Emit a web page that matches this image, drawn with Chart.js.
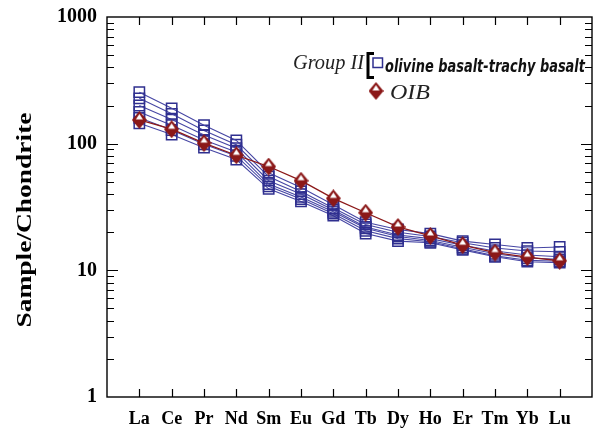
<!DOCTYPE html>
<html><head><meta charset="utf-8">
<script src="https://cdn.jsdelivr.net/npm/chart.js@4"></script>
<style>html,body{margin:0;padding:0;background:#fff}#wrap{width:593px;height:433px}</style>
</head><body><div id="wrap"><canvas id="c" width="593" height="433"></canvas></div>
<script>
// ---- data ----
const elements = ['La','Ce','Pr','Nd','Sm','Eu','Gd','Tb','Dy','Ho','Er','Tm','Yb','Lu'];
const yTickLabels = [1, 10, 100, 1000];
const oib     = [154, 130, 101, 81, 66, 51, 37, 28.5, 22, 18.7, 15.8, 13.8, 12.7, 11.9];
const sample1 = [255, 190, 140, 106, 59, 45, 33, 24, 21, 19.5, 17, 16, 15, 15.3];
const sample2 = [228, 172, 127, 98, 55, 42, 31, 23, 20, 18.5, 16.5, 15, 14.2, 14];
const sample3 = [200, 155, 117, 92, 51, 40, 30, 22, 19, 17.8, 15.8, 14.2, 13.2, 12.8];
const sample4 = [178, 140, 107, 86, 48, 38, 29, 21.5, 18.5, 17.2, 15.2, 13.5, 12.5, 12.2];
const sample5 = [160, 128, 99, 80, 46, 36.5, 28, 20.5, 17.8, 16.8, 14.8, 13, 12, 11.8];
const sample6 = [145, 118, 93, 75, 44, 35, 27, 19.5, 17, 16.5, 14.5, 12.8, 11.7, 11.5];
const groupLabel = 'Group II';
const sampleLabel = 'olivine basalt-trachy basalt';
const oibLabel = 'OIB';
const yTitle = 'Sample/Chondrite';

// ---- styles ----
const BLUE = '#2f2f8f', BLUE_LINE = '#4646a4', RED = '#8b1818';

function makeDiamond(w, h) {
  const c = document.createElement('canvas'); c.width = w; c.height = h;
  const g = c.getContext('2d');
  g.fillStyle = RED; g.beginPath();
  g.moveTo(w/2, 0); g.lineTo(w, h/2); g.lineTo(w/2, h); g.lineTo(0, h/2); g.closePath(); g.fill();
  g.fillStyle = '#fff'; g.beginPath();
  g.moveTo(w/2, 3); g.lineTo(w - 4, h/2 - 0.5); g.lineTo(4, h/2 - 0.5); g.closePath(); g.fill();
  return c;
}
const diamond = makeDiamond(15, 18);
const toPts = arr => arr.map((v, i) => ({x: i + 1, y: v}));

const samples = [sample1, sample2, sample3, sample4, sample5, sample6];
const datasets = [{
  label: oibLabel, data: toPts(oib), borderColor: RED, borderWidth: 1.3,
  pointStyle: diamond, pointRadius: 8, tension: 0
}].concat(samples.map((s, k) => ({
  label: sampleLabel + ' ' + (k + 1), data: toPts(s), borderColor: BLUE_LINE, borderWidth: 1.1,
  pointStyle: 'rect', pointRadius: 7.3, pointBorderColor: BLUE, pointBorderWidth: 1.5,
  pointBackgroundColor: 'rgba(255,255,255,0)', tension: 0
})));

function fitText(ctx, text, x, y, font, w, sy, align) {
  ctx.save(); ctx.font = font;
  const m = ctx.measureText(text).width;
  ctx.translate(x, y); ctx.scale(w / m, sy);
  ctx.textAlign = align || 'left'; ctx.fillText(text, 0, 0);
  ctx.restore();
}

const framePlugin = {
  id: 'frame',
  afterDraw(chart) {
    const {ctx, chartArea: a, scales: {x, y}} = chart;
    ctx.save();
    ctx.strokeStyle = '#000'; ctx.lineWidth = 1.4;
    ctx.strokeRect(a.left, a.top, a.right - a.left, a.bottom - a.top);
    ctx.lineWidth = 1.2;
    ctx.beginPath();
    for (let dec = 1; dec <= 100; dec *= 10) {
      for (let k = 1; k <= 9; k++) {
        const v = dec * k; if (v === 1) continue;
        const py = Math.round(y.getPixelForValue(v)) + 0.5;
        const len = k === 1 ? 11 : 7;
        ctx.moveTo(a.left, py); ctx.lineTo(a.left + len, py);
        ctx.moveTo(a.right, py); ctx.lineTo(a.right - len, py);
      }
    }
    for (let i = 1; i <= elements.length; i++) {
      const px = Math.round(x.getPixelForValue(i)) + 0.5;
      ctx.moveTo(px, a.bottom); ctx.lineTo(px, a.bottom - 8);
      ctx.moveTo(px, a.top); ctx.lineTo(px, a.top + 8);
    }
    ctx.stroke();

    // y title
    ctx.fillStyle = '#000';
    ctx.save();
    ctx.translate(31, 220); ctx.rotate(-Math.PI / 2);
    ctx.font = 'bold 27px "Liberation Serif"';
    const m = ctx.measureText(yTitle).width;
    ctx.scale(215 / m, 0.75);
    ctx.textAlign = 'center'; ctx.textBaseline = 'alphabetic';
    ctx.fillText(yTitle, 0, 0);
    ctx.restore();

    // legend
    ctx.fillStyle = '#222';
    fitText(ctx, groupLabel, 293, 69, 'italic 20px "Liberation Serif"', 71, 1);
    ctx.strokeStyle = '#000'; ctx.lineWidth = 3;
    ctx.beginPath();
    ctx.moveTo(374, 53.5); ctx.lineTo(368, 53.5); ctx.lineTo(368, 77.5); ctx.lineTo(374, 77.5);
    ctx.stroke();
    ctx.strokeStyle = BLUE; ctx.lineWidth = 1.5;
    ctx.strokeRect(373, 58, 9.5, 9.5);
    ctx.fillStyle = '#111';
    fitText(ctx, sampleLabel, 385, 72, 'bold italic 18px "DejaVu Sans"', 200, 0.95);
    ctx.drawImage(diamond, 376 - 7.5, 91 - 9);
    ctx.fillStyle = '#222';
    fitText(ctx, oibLabel, 390, 99, 'italic 20px "Liberation Serif"', 40, 1);
    ctx.restore();
  }
};

new Chart(document.getElementById('c'), {
  type: 'line',
  data: {datasets},
  options: {
    responsive: false, animation: false, devicePixelRatio: 1,
    layout: {autoPadding: false, padding: {top: 17, right: 1, left: 0, bottom: 0}},
    plugins: {legend: {display: false}, tooltip: {enabled: false}},
    scales: {
      x: {
        type: 'linear', min: 0, max: 15,
        grid: {display: false}, border: {display: false},
        ticks: {
          stepSize: 1, autoSkip: false, maxRotation: 0, padding: 4, color: '#000',
          font: {family: '"Liberation Serif"', size: 18, weight: 'bold'},
          callback: v => elements[v - 1] ?? ''
        },
        afterFit: s => { s.height = 36; s.paddingLeft = 0; s.paddingRight = 0; }
      },
      y: {
        type: 'logarithmic', min: 1, max: 1000,
        grid: {display: false}, border: {display: false},
        ticks: {
          autoSkip: false, padding: 2, color: '#000',
          font: {family: '"Liberation Serif"', size: 20, weight: 'bold'},
          callback: v => yTickLabels.includes(v) ? String(v) : ''
        },
        afterFit: s => { s.width = 107; s.paddingTop = 0; s.paddingBottom = 0; }
      }
    }
  },
  plugins: [framePlugin]
});
</script></body></html>
